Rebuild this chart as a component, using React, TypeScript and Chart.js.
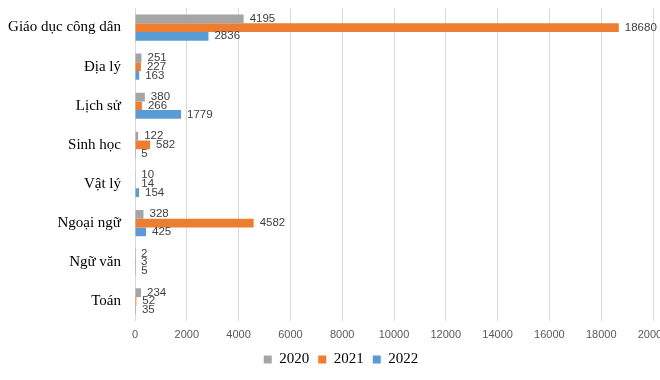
import React, { useEffect, useRef } from "react";
import { Chart, registerables } from "chart.js";
Chart.register(...registerables);

const categories = ["Giáo dục công dân", "Địa lý", "Lịch sử", "Sinh học", "Vật lý", "Ngoại ngữ", "Ngữ văn", "Toán"];
const seriesNames = ["2020", "2021", "2022"];
const values2020 = [4195, 251, 380, 122, 10, 328, 2, 234];
const values2021 = [18680, 227, 266, 582, 14, 4582, 3, 52];
const values2022 = [2836, 163, 1779, 5, 154, 425, 5, 35];
const seriesColors = ["#A5A5A5", "#ED7D31", "#5B9BD5"];
const xMin = 0;
const xMax = 20000;
const xStep = 2000;

const dataLabelPlugin = {
  id: "dataLabels",
  afterDatasetsDraw(chart: any) {
    const ctx = chart.ctx;
    ctx.save();
    ctx.font = "11.5px 'Liberation Sans', Arial, sans-serif";
    ctx.fillStyle = "#404040";
    ctx.textAlign = "left";
    ctx.textBaseline = "middle";
    chart.data.datasets.forEach((ds: any, i: number) => {
      const meta = chart.getDatasetMeta(i);
      meta.data.forEach((el: any, j: number) => {
        ctx.fillText(String(ds.data[j]), el.x + 6, el.y);
      });
    });
    ctx.restore();
  },
};

const legendShiftPlugin = {
  id: "legendShift",
  afterLayout(chart: any) {
    const lg = chart.legend;
    if (lg) {
      lg.left += 14.5;
      lg.right += 14.5;
    }
  },
};

export default function App() {
  const ref = useRef<HTMLCanvasElement | null>(null);
  useEffect(() => {
    document.body.style.margin = "0";
    const canvas = ref.current!;
    const allValues = [values2020, values2021, values2022];
    const chart = new Chart(canvas, {
      type: "bar",
      data: {
        labels: categories,
        datasets: seriesNames.map((name, i) => ({
          label: name,
          data: allValues[i],
          backgroundColor: seriesColors[i],
          borderWidth: 0,
          barPercentage: 1.0,
          categoryPercentage: 0.67,
        })),
      },
      options: {
        indexAxis: "y",
        responsive: false,
        animation: false,
        devicePixelRatio: 1,
        layout: { padding: { left: 0, right: 27, top: 8, bottom: 3 } },
        plugins: {
          tooltip: { enabled: false },
          legend: {
            position: "bottom",
            labels: {
              boxWidth: 8,
              boxHeight: 8,
              padding: 9,
              color: "#000",
              font: { family: "'Liberation Serif', 'Times New Roman', serif", size: 15 },
            },
          },
        },
        scales: {
          x: {
            min: xMin,
            max: xMax,
            ticks: {
              stepSize: xStep,
              color: "#595959",
              padding: 8,
              font: { family: "'Liberation Sans', Arial, sans-serif", size: 11 },
              callback: (v: any) => String(v),
            },
            grid: { color: "#D9D9D9", drawTicks: false },
            border: { display: false },
            afterFit: (scale: any) => {
              scale.height -= 7;
            },
          },
          y: {
            ticks: {
              color: "#000",
              padding: 14,
              font: { family: "'Liberation Serif', 'Times New Roman', serif", size: 15 },
            },
            grid: { display: false, drawTicks: false },
            border: { display: false },
            afterFit: (scale: any) => {
              scale.width = 135;
              scale.paddingTop = 0;
              scale.paddingBottom = 0;
            },
          },
        },
      },
      plugins: [dataLabelPlugin, legendShiftPlugin],
    } as any);
    return () => chart.destroy();
  }, []);
  return (
    <div style={{ position: "absolute", left: 0, top: 0, width: 660, height: 380, overflow: "hidden", background: "#fff" }}>
      <canvas ref={ref} width={680} height={380} style={{ width: 680, height: 380, display: "block" }} />
    </div>
  );
}
